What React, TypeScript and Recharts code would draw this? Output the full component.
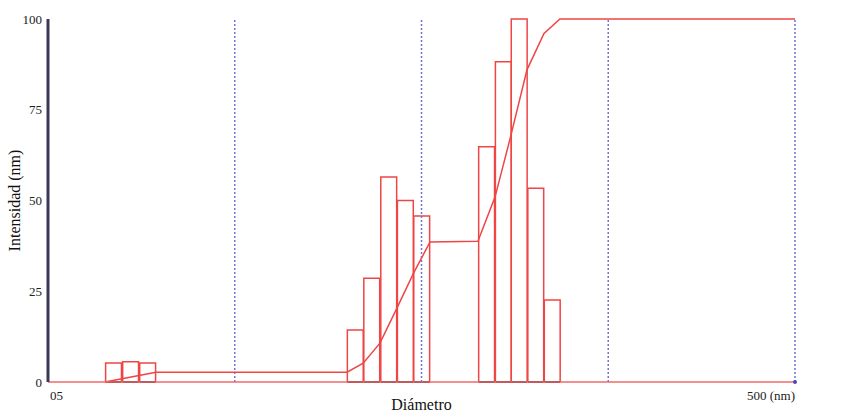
import React from 'react';
import { Bar, ComposedChart, Line, ReferenceDot, ReferenceLine, XAxis, YAxis } from 'recharts';

// histogram bins (diameter at bin centre, nm) and their intensity
const binCenters = [7.48, 8.31, 9.23, 33.2, 36.75, 40.8, 45.2, 50.0, 74.6, 82.7, 91.2, 101.0, 111.8];
const binValues = [5.2, 5.6, 5.2, 14.3, 28.6, 56.5, 50, 45.7, 64.8, 88.2, 100, 53.4, 22.6];

// cumulative curve, sampled at bin edges
const cumDiameters = [7.1, 7.89, 8.76, 9.73, 31.6, 34.9, 38.7, 43.0, 47.5, 52.7, 70.8, 78.7, 86.8, 95.8, 106.4, 117.4, 500];
const cumValues = [0, 0.9, 1.8, 2.7, 2.7, 5.2, 10.7, 20.4, 29.8, 38.6, 38.8, 51, 68, 86, 96, 100, 100];

const xTicks = [5, 15.81, 50, 158.1, 500];
const yTicks = [0, 25, 50, 75, 100];

const RED = '#ef4545';
const FONT = '"Liberation Serif", "DejaVu Serif", serif';

const bins = binCenters.map((d, i) => ({ d, v: binValues[i] }));
const cumulative = cumDiameters.map((d, i) => ({ d, c: cumValues[i] }));

// recharts shrinks bars to 90% of the band; undo that so the bins touch
const BinShape = (props: any) => {
  const { x, y, width, height } = props;
  if (!height) return null;
  const w = width / 0.9;
  const x0 = x + width / 2 - w / 2;
  return (
    <g>
      <path d={`M${x0},${y + height} L${x0},${y} L${x0 + w},${y} L${x0 + w},${y + height}`} fill="none" stroke={RED} strokeWidth={1.5} />
      <line x1={x0} x2={x0 + w} y1={y + height} y2={y + height} stroke="#333" strokeWidth={2} />
    </g>
  );
};

const XTick = (props: any) => {
  const { x, y, payload } = props;
  if (payload.value === 5) {
    return <text x={x + 2} y={y + 10} textAnchor="start" fontSize={13} fontFamily={FONT} fill="#222">05</text>;
  }
  if (payload.value === 500) {
    return <text x={x} y={y + 10} textAnchor="end" fontSize={13} fontFamily={FONT} fill="#222">500 (nm)</text>;
  }
  return null;
};

export default function App() {
  return (
    <div style={{ position: 'fixed', left: 0, top: 0, width: 842, height: 414, background: '#fff' }}>
      <ComposedChart width={842} height={414} data={bins} margin={{ top: 19, right: 47, bottom: 0, left: 8 }}>
        <XAxis
          dataKey="d"
          type="number"
          scale="log"
          domain={[5, 500]}
          ticks={xTicks}
          tick={<XTick />}
          tickLine={false}
          axisLine={{ stroke: '#f26a6a', strokeWidth: 1.5 }}
          height={32}
          label={{ value: 'Diámetro', position: 'insideBottom', offset: 0, fontSize: 16, fontFamily: FONT, fill: '#111', dy: -4 }}
        />
        <XAxis xAxisId="cum" dataKey="d" type="number" scale="log" domain={[5, 500]} hide />
        <YAxis
          type="number"
          domain={[0, 100]}
          ticks={yTicks}
          width={40}
          tickSize={4}
          tickLine={false}
          axisLine={{ stroke: '#3a3a58', strokeWidth: 3 }}
          tick={{ fontSize: 13, fontFamily: FONT, fill: '#222' }}
          label={{ value: 'Intensidad (nm)', angle: -90, position: 'insideLeft', offset: 0, dx: 6, fontSize: 16, fontFamily: FONT, fill: '#111', style: { textAnchor: 'middle' } }}
        />
        {xTicks.slice(1).map((t) => (
          <ReferenceLine key={t} x={t} stroke="#7272d4" strokeWidth={1.5} strokeDasharray="2 2" />
        ))}
        <Bar dataKey="v" barSize={18} shape={<BinShape />} isAnimationActive={false} />
        <Line xAxisId="cum" data={cumulative} dataKey="c" type="linear" stroke={RED} strokeWidth={1.5} dot={false} isAnimationActive={false} />
        <ReferenceDot x={500} y={0} r={2} fill="#4a4ac0" stroke="none" />
      </ComposedChart>
    </div>
  );
}
